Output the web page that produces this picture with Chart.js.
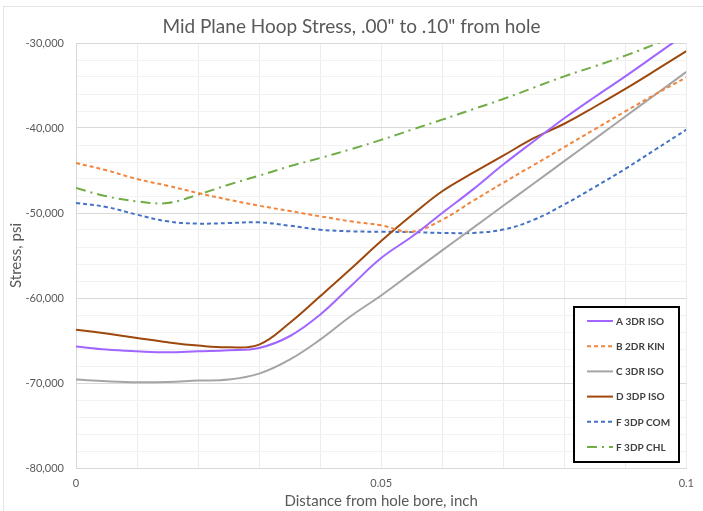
<!DOCTYPE html>
<html>
<head>
<meta charset="utf-8">
<script src="https://cdn.jsdelivr.net/npm/chart.js@4.4.1/dist/chart.umd.min.js"></script>
<style>
  body { margin: 0; background: #fff; }
  #wrap { width: 703px; height: 511px; position: relative; }
</style>
</head>
<body>
<div id="wrap"><canvas id="myChart" width="703" height="511"></canvas></div>
<script>
// distance from hole bore, inch
const distance = [0, 0.005, 0.01, 0.015, 0.02, 0.025, 0.03, 0.035, 0.04, 0.045, 0.05,
    0.055, 0.06, 0.065, 0.07, 0.075, 0.08, 0.085, 0.09, 0.095, 0.1];

// hoop stress, psi
const a3drIso = [-65700, -66070, -66270, -66390, -66270, -66150, -65880, -64500, -61960, -58620, -55300,
    -52800, -50000, -47250, -44300, -41560, -38860, -36350, -33920, -31400, -28860];
const b2drKin = [-44120, -44980, -46000, -46790, -47650, -48430, -49140, -49760, -50390, -50980, -51450,
    -52200, -50800, -48600, -46450, -44350, -42250, -40150, -38050, -36000, -34050];
const c3drIso = [-69600, -69800, -69920, -69880, -69720, -69600, -68900, -67250, -64900, -62150, -59700,
    -57050, -54400, -51780, -49150, -46530, -43900, -41280, -38650, -36030, -33400];
const d3dpIso = [-63720, -64190, -64700, -65210, -65600, -65800, -65480, -62940, -59800, -56600, -53300,
    -50270, -47440, -45290, -43250, -41200, -39500, -37500, -35400, -33200, -30950];
const f3dpCom = [-48820, -49290, -50200, -50980, -51250, -51180, -51100, -51490, -51960, -52160, -52200,
    -52250, -52340, -52340, -51950, -50800, -49000, -46950, -44800, -42500, -40200];
const f3dpChl = [-47060, -48040, -48630, -48820, -47840, -46670, -45610, -44510, -43530, -42500, -41400,
    -40200, -39020, -37800, -36590, -35250, -33920, -32740, -31490, -30100, -28600];

const labels = ['A 3DR ISO', 'B 2DR KIN', 'C 3DR ISO', 'D 3DP ISO', 'F 3DP COM', 'F 3DP CHL'];
const xTickLabels = ['0', '0.05', '0.1'];

const FONT = 'Lato, "Open Sans", sans-serif';
const GREY = '#595959';

function pts(ys) {
    return distance.map((x, i) => ({ x: x, y: ys[i] }));
}

function series(label, ys, color, dash) {
    return {
        label: label,
        data: pts(ys),
        borderColor: color,
        backgroundColor: color,
        borderWidth: 2,
        borderDash: dash,
        pointRadius: 0,
        tension: 0.4,
        fill: false
    };
}

// boxed legend in the lower right corner of the plot
const boxLegend = {
    id: 'boxLegend',
    afterDraw(chart) {
        const ctx = chart.ctx;
        ctx.save();
        ctx.fillStyle = '#fff';
        ctx.fillRect(574, 307, 105, 155);
        ctx.strokeStyle = '#000';
        ctx.lineWidth = 2;
        ctx.strokeRect(574, 307, 105, 155);
        chart.data.datasets.forEach((ds, i) => {
            const y = 321 + i * 25.2;
            ctx.beginPath();
            ctx.setLineDash(ds.borderDash || []);
            ctx.strokeStyle = ds.borderColor;
            ctx.lineWidth = 2;
            ctx.moveTo(587, y);
            ctx.lineTo(613, y);
            ctx.stroke();
            ctx.setLineDash([]);
            ctx.fillStyle = '#404040';
            ctx.font = 'bold 10px ' + FONT;
            ctx.textBaseline = 'middle';
            ctx.textAlign = 'left';
            ctx.fillText(ds.label, 616, y + 0.5);
        });
        ctx.restore();
    }
};

// faint chart border
const frame = {
    id: 'frame',
    beforeDraw(chart) {
        const ctx = chart.ctx;
        ctx.save();
        ctx.fillStyle = '#fff';
        ctx.fillRect(0, 0, 703, 511);
        ctx.strokeStyle = '#e3e3e3';
        ctx.lineWidth = 1;
        ctx.strokeRect(3.5, 6.5, 720, 530);
        ctx.restore();
    }
};

new Chart(document.getElementById('myChart'), {
    type: 'line',
    data: {
        datasets: [
            series(labels[0], a3drIso, '#a066ff', []),
            series(labels[1], b2drKin, '#f0853e', [4, 3]),
            series(labels[2], c3drIso, '#a5a5a5', []),
            series(labels[3], d3dpIso, '#9e480e', []),
            series(labels[4], f3dpCom, '#4472c4', [4, 3]),
            series(labels[5], f3dpChl, '#70ad47', [10, 5, 2, 5])
        ]
    },
    options: {
        responsive: false,
        animation: false,
        layout: { padding: 0 },
        plugins: {
            legend: { display: false },
            tooltip: { enabled: false },
            title: {
                display: true,
                text: 'Mid Plane Hoop Stress, .00" to .10" from hole',
                color: GREY,
                font: { family: FONT, size: 19, weight: 'normal' },
                padding: { top: 15, bottom: 5.2 }
            }
        },
        scales: {
            x: {
                type: 'linear',
                min: 0,
                max: 0.1,
                afterFit(scale) { scale.height = 43; },
                grid: { color: '#ececec', drawTicks: false },
                border: { color: '#d9d9d9' },
                ticks: {
                    stepSize: 0.01,
                    autoSkip: false,
                    maxRotation: 0,
                    padding: 9,
                    color: GREY,
                    font: { family: FONT, size: 11 },
                    callback(v) {
                        const k = Math.round(v * 100);
                        return k % 5 === 0 ? xTickLabels[k / 5] : '';
                    }
                },
                title: {
                    display: true,
                    text: 'Distance from hole bore, inch',
                    color: GREY,
                    font: { family: FONT, size: 15 },
                    padding: { top: 0, bottom: 1 }
                }
            },
            y: {
                min: -80000,
                max: -30000,
                afterFit(scale) { scale.width = 76; },
                grid: {
                    drawTicks: false,
                    color(c) {
                        return c.tick && c.tick.value % 10000 === 0 ? '#d9d9d9' : '#f2f2f2';
                    }
                },
                border: { color: '#d9d9d9' },
                ticks: {
                    stepSize: 2000,
                    autoSkip: false,
                    padding: 12,
                    color: GREY,
                    font: { family: FONT, size: 11 },
                    callback(v) {
                        return v % 10000 === 0 ? v.toLocaleString('en-US') : '';
                    }
                },
                title: {
                    display: true,
                    text: 'Stress, psi',
                    color: GREY,
                    font: { family: FONT, size: 15 },
                    padding: { top: 7, bottom: 0 }
                }
            },
            // empty right-hand strip so the title centres on the full width
            yRight: {
                position: 'right',
                display: true,
                afterFit(scale) { scale.width = 16; },
                grid: { display: false, drawOnChartArea: false },
                border: { display: false },
                ticks: { display: false }
            }
        }
    },
    plugins: [frame, boxLegend]
});
</script>
</body>
</html>
